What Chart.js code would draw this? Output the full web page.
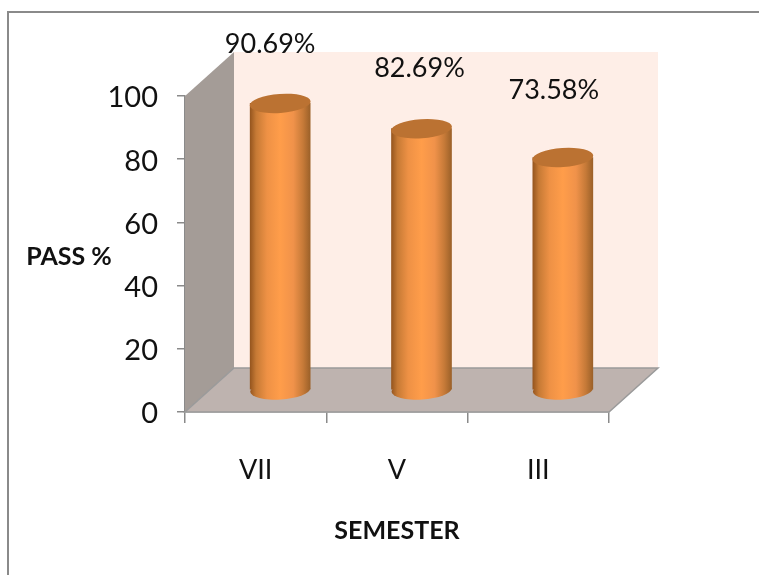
<!DOCTYPE html>
<html>
<head>
<meta charset="utf-8">
<script src="https://cdn.jsdelivr.net/npm/chart.js@4"></script>
<style>
  body { margin: 0; background: #fff; }
  #frame { position: absolute; left: 7px; top: 11px; width: 760px; height: 570px; border-top: 2px solid #8a8a8a; border-left: 2px solid #8a8a8a; }
  #wrap { position: absolute; left: 0; top: 0; }
</style>
</head>
<body>
<div id="frame"></div>
<div id="wrap"><canvas id="chart" width="759" height="575"></canvas></div>
<script>
const semesters = ['VII', 'V', 'III'];
const passPercent = [90.69, 82.69, 73.58];
const yTicks = [0, 20, 40, 60, 80, 100];
const xTitle = 'SEMESTER';
const yTitle = 'PASS %';

// fake 3D depth of the box
const depthX = 49;
const depthY = 44;
const font = 'Lato, Carlito, sans-serif';

// nudges for the value labels, they are not centred in the original
const labelShift = [[-10, -59], [-2, -60], [-9, -67]];

function barGradient(ctx, x) {
    if (!Number.isFinite(x)) return '#ff9d4a';
    const g = ctx.createLinearGradient(x - 30, 0, x + 30, 0);
    g.addColorStop(0, '#96561f');
    g.addColorStop(0.1, '#c67a35');
    g.addColorStop(0.28, '#ee9145');
    g.addColorStop(0.5, '#ff9d4a');
    g.addColorStop(0.72, '#f0924a');
    g.addColorStop(0.88, '#c67a38');
    g.addColorStop(1, '#9c6129');
    return g;
}

function poly(ctx, pts, fill, stroke) {
    ctx.beginPath();
    pts.forEach((p, i) => i ? ctx.lineTo(p[0], p[1]) : ctx.moveTo(p[0], p[1]));
    ctx.closePath();
    ctx.fillStyle = fill;
    ctx.fill();
    if (stroke) {
        ctx.strokeStyle = stroke;
        ctx.lineWidth = 1.5;
        ctx.stroke();
    }
}

const box3d = {
    id: 'box3d',
    beforeDatasetsDraw(chart) {
        const { ctx, chartArea: a } = chart;
        const l = a.left, r = a.right, t = a.top, b = a.bottom;
        ctx.save();
        poly(ctx, [[l + depthX, t - depthY], [r + depthX, t - depthY], [r + depthX, b - depthY], [l + depthX, b - depthY]], '#feeee7');
        poly(ctx, [[l, t], [l + depthX, t - depthY], [l + depthX, b - depthY], [l, b]], '#a49c97');
        poly(ctx, [[l, b], [l + depthX, b - depthY], [r + depthX, b - depthY], [r, b]], '#beb3af', '#9a9a9a');
        ctx.restore();
    },
    // bars sit half way into the box, so shift them for the drawing
    beforeDatasetDraw(chart, args) {
        const { ctx, chartArea: a } = chart;
        ctx.save();
        ctx.translate(depthX / 2, -depthY / 2);
        chart.getDatasetMeta(args.index).data.forEach(bar => {
            ctx.beginPath();
            ctx.ellipse(bar.x, a.bottom, 30, 9.5, -0.06, 0, Math.PI * 2);
            ctx.fillStyle = barGradient(ctx, bar.x);
            ctx.fill();
        });
    },
    afterDatasetDraw(chart, args) {
        const { ctx } = chart;
        chart.getDatasetMeta(args.index).data.forEach(bar => {
            ctx.beginPath();
            ctx.ellipse(bar.x, bar.y, 30.5, 9.5, -0.07, 0, Math.PI * 2);
            ctx.fillStyle = '#bb7232';
            ctx.fill();
        });
        ctx.restore();
    },
    afterDraw(chart) {
        const { ctx } = chart;
        ctx.save();
        ctx.fillStyle = '#111';
        ctx.textAlign = 'center';
        ctx.textBaseline = 'middle';
        ctx.font = '27px ' + font;
        chart.getDatasetMeta(0).data.forEach((bar, i) => {
            ctx.fillText(passPercent[i] + '%',
                bar.x + depthX / 2 + labelShift[i][0],
                bar.y - depthY / 2 + labelShift[i][1]);
        });
        // horizontal y title, the scale title option would rotate it
        ctx.font = 'bold 25px ' + font;
        ctx.fillText(yTitle, 69, 257);
        ctx.restore();
    }
};

new Chart(document.getElementById('chart').getContext('2d'), {
    type: 'bar',
    data: {
        labels: semesters,
        datasets: [{
            data: passPercent,
            barThickness: 60,
            borderWidth: 0,
            // no depth offset here, the canvas is already translated when the bar is filled
            backgroundColor: c => barGradient(c.chart.ctx, c.chart.scales.x.getPixelForValue(c.dataIndex))
        }]
    },
    plugins: [box3d],
    options: {
        responsive: false,
        animation: false,
        layout: { padding: { top: 96, right: 150, left: 0, bottom: 0 } },
        plugins: { legend: { display: false }, tooltip: { enabled: false } },
        scales: {
            x: {
                afterFit: s => { s.height = 163; },
                offset: true,
                border: { color: '#9a9a9a', width: 1.5 },
                grid: { offset: true, drawOnChartArea: false, tickLength: 11, color: '#8a8a8a', lineWidth: 1.5 },
                ticks: { color: '#111', padding: 31, maxRotation: 0, font: { family: font, size: 27 } },
                title: { display: true, text: xTitle, color: '#111', padding: { top: 0, bottom: 29 }, font: { family: font, size: 25, weight: 'bold' } }
            },
            y: {
                afterFit: s => { s.width = 185; },
                min: 0,
                max: 100,
                afterBuildTicks: s => { s.ticks = yTicks.map(v => ({ value: v })); },
                border: { color: '#8a8a8a', width: 1.5 },
                grid: { drawOnChartArea: false, tickLength: 8, color: '#8a8a8a', lineWidth: 1.5 },
                ticks: { color: '#111', padding: 19, labelOffset: 2, font: { family: font, size: 29 } }
            }
        }
    }
});
</script>
</body>
</html>
